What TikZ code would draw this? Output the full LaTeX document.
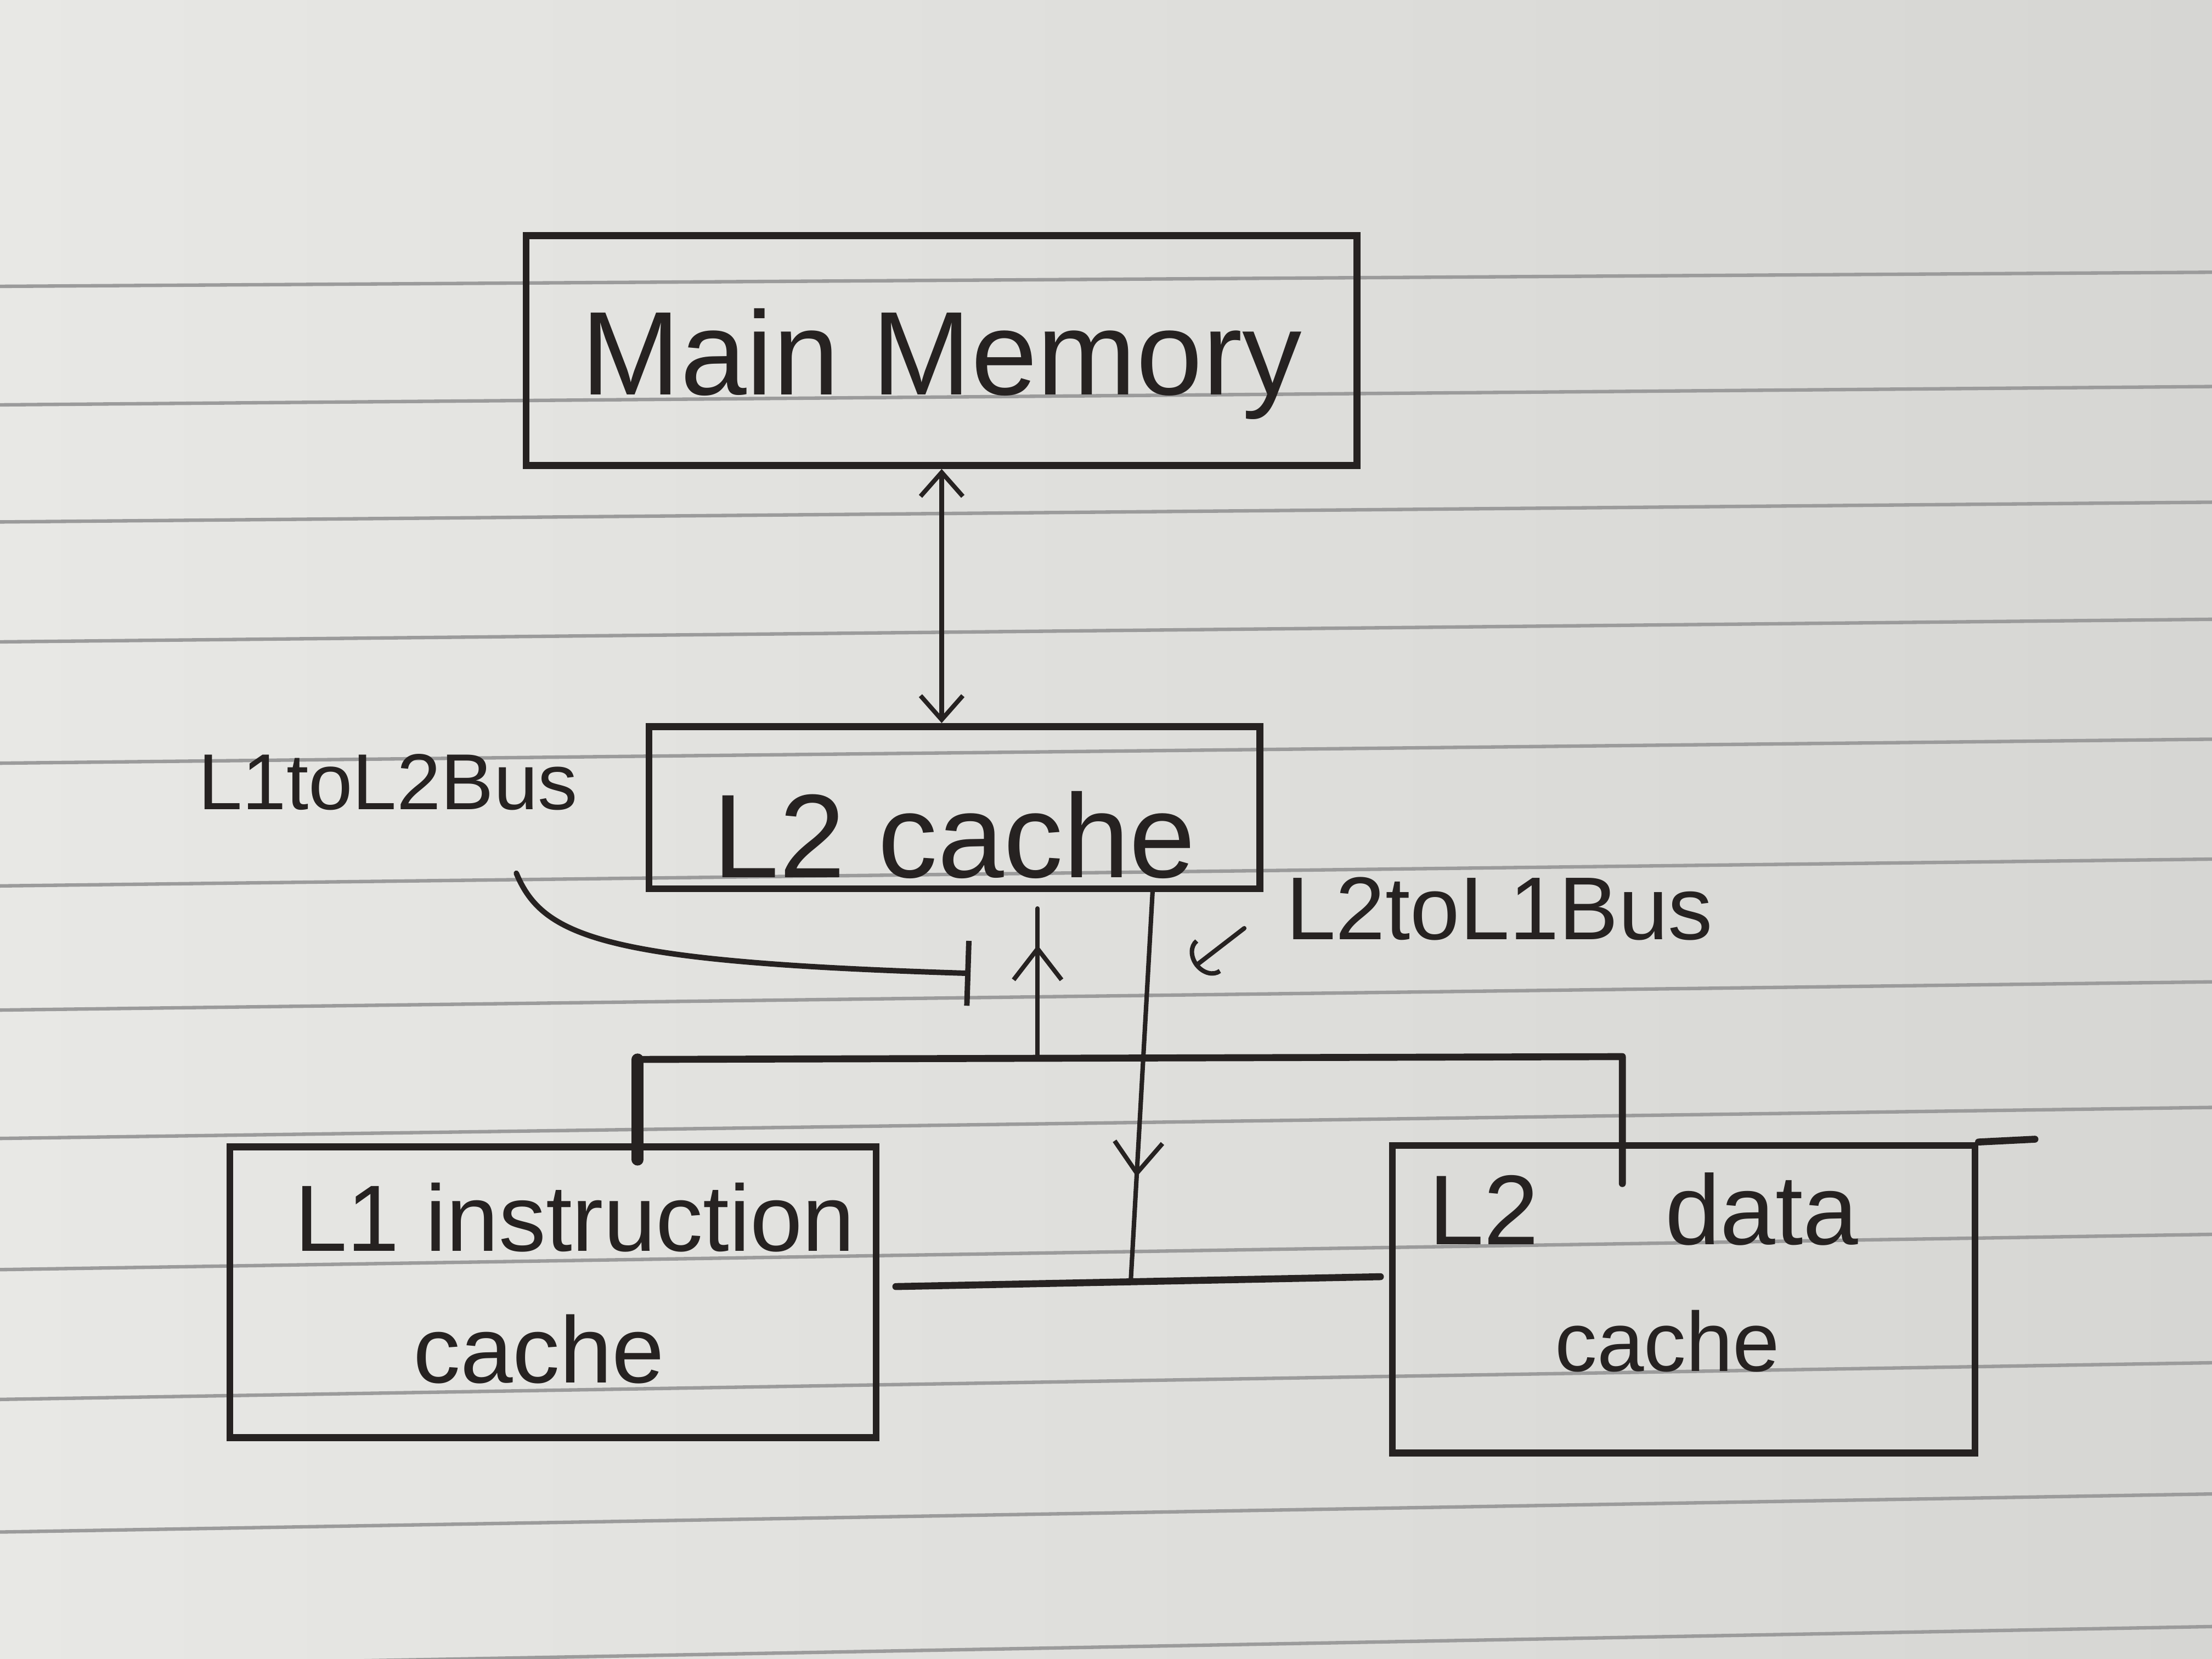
\documentclass[tikz,border=0pt]{standalone}
\usepackage{fontspec}
\setmainfont{Liberation Sans}
\usetikzlibrary{arrows.meta,decorations.markings,calc}
\definecolor{paperl}{RGB}{232,232,229}
\definecolor{paperd}{RGB}{214,214,211}
\definecolor{rulec}{RGB}{155,155,155}
\definecolor{inkc}{RGB}{38,34,33}
\begin{document}
\begin{tikzpicture}[
  box/.style={draw=inkc, line width=1.4pt, inner sep=0pt, text=inkc, font=\fontsize{24}{28}\selectfont},
  txt/.style={inner sep=0pt, text=inkc, anchor=base},
  wire/.style={draw=inkc, line width=1.4pt, line cap=round, line join=round},
  thinw/.style={draw=inkc, line width=0.9pt, line cap=round},
  barbs/.style={{Straight Barb[length=0.17cm,width=0.3cm]}-{Straight Barb[length=0.17cm,width=0.3cm]}},
  markarrow/.style={postaction={decorate}, decoration={markings,
      mark=at position #1 with {\arrow[inkc, line width=0.9pt]{Straight Barb[length=0.22cm,width=0.34cm]}}}},
  ruled/.style={draw=rulec, line width=0.7pt}
]
% paper
\shade[left color=paperl, right color=paperd] (0,0) rectangle (15.68,-11.76);
\useasboundingbox (0,0) rectangle (15.68,-11.76);
\foreach \l/\r in {2.03/1.93, 2.87/2.74, 3.70/3.56, 4.55/4.39, 5.41/5.24, 6.28/6.09,
                   7.16/6.96, 8.07/7.85, 9.00/8.75, 9.92/9.66, 10.86/10.59, 11.82/11.53}
  \draw[ruled] (0,-\l) -- (15.68,-\r);

% boxes
\node[box, minimum width=5.89cm, minimum height=1.63cm, text height=0.81cm, text depth=0.18cm] (mm) at (6.675,-2.485) {Main Memory};
\node[box, minimum width=4.33cm, minimum height=1.15cm, text height=0.99cm, text depth=0cm] (l2) at (6.765,-5.725) {L2 cache};
\node[box, minimum width=4.58cm, minimum height=2.06cm] (l1i) at (3.92,-9.16) {};
\node[box, minimum width=4.13cm, minimum height=2.18cm] (l2d) at (11.935,-9.21) {};

% box texts
\node[txt, font=\fontsize{19}{23}\selectfont] (l1iA) at (4.075,-8.87) {L1 instruction};
\node[txt, font=\fontsize{19}{23}\selectfont] (l1iB) at (3.82,-9.80) {cache};
\node[txt, font=\fontsize{20}{24}\selectfont] (l2dA) at (11.65,-8.82) {L2\hspace{0.7cm} data};
\node[txt, font=\fontsize{17}{20}\selectfont] (l2dB) at (11.82,-9.72) {cache};

% labels
\node[txt, font=\fontsize{16}{19}\selectfont] (lbus12) at (2.75,-5.74) {L1toL2Bus};
\node[txt, font=\fontsize{18}{21}\selectfont] (lbus21) at (10.63,-6.66) {L2toL1Bus};

% main memory <-> L2 cache
\draw[thinw, barbs] (mm.south) -- (mm.south |- l2.north);

% buses
\coordinate (busL) at (4.52,-7.51);
\coordinate (busR) at (11.50,-7.49);
\coordinate (bbL) at (6.35,-9.12);
\coordinate (bbR) at (9.785,-9.05);
\draw[wire] (busL) -- (busR) -- (busR |- 0,-8.39);
\draw[wire, line width=2.4pt] (busL) -- (busL |- 0,-8.22);
\draw[wire] (bbL) -- (bbR);
\draw[wire] (l2d.north east) -- ++(0.40,0.02);

% L1 -> L2 (up) and L2 -> L1 (down)
\coordinate (upB) at (7.355,-7.50);
\coordinate (upT) at (7.355,-6.44);
\draw[thinw, markarrow=0.755] (upB) -- (upT);
\coordinate (dnT) at (8.17,-6.32);
\coordinate (dnB) at (8.015,-9.09);
\draw[thinw, markarrow=0.73] (dnT) -- (dnB);

% label pointers
\coordinate (c12s) at (3.66,-6.19);
\coordinate (c12e) at (6.88,-6.90);
\draw[thinw, line width=1.1pt, -{Bar[width=0.46cm]}] (c12s) .. controls (3.85,-6.65) and (4.3,-6.82) .. (c12e);
\coordinate (c21s) at (8.82,-6.58);
\coordinate (c21e) at (8.47,-6.85);
\draw[thinw, -{Arc Barb[length=0.12cm,width=0.3cm]}] (c21s) -- (c21e);
\end{tikzpicture}
\end{document}
